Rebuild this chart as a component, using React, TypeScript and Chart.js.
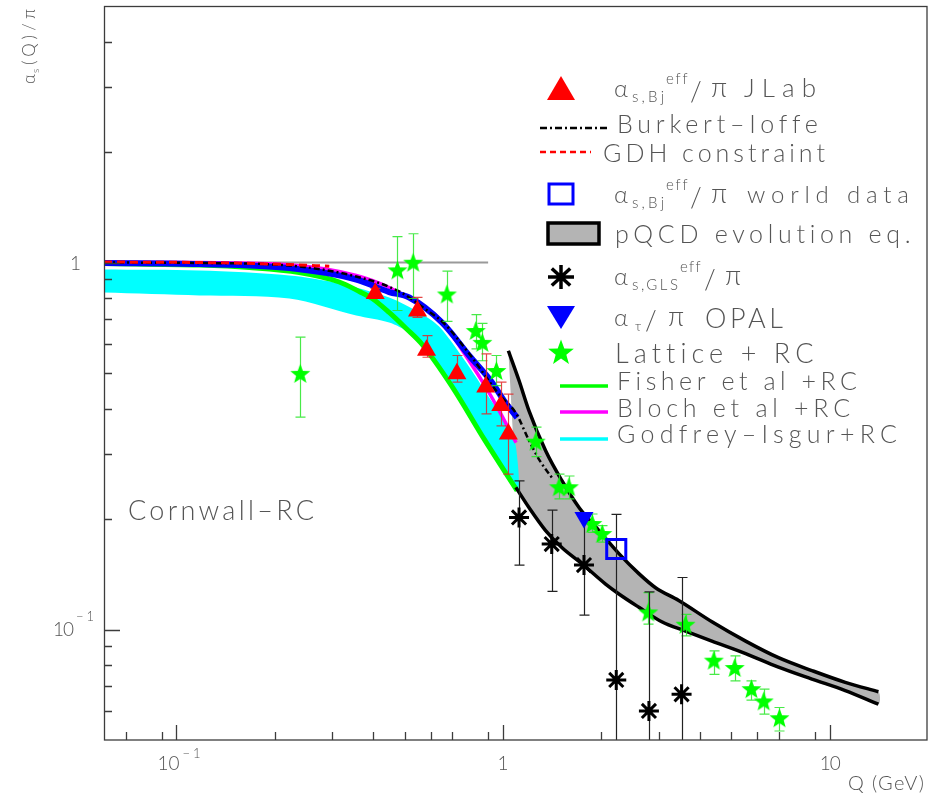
import React, { useEffect, useRef } from 'react';
import { Chart, registerables } from 'chart.js';
Chart.register(...registerables);

// ---------- Data (Q in GeV, alpha_s/pi) ----------
const fisherQ = [0.06, 0.1176, 0.1672, 0.2377, 0.3151, 0.3627, 0.3975, 0.4479, 0.5051, 0.5653, 0.6982, 0.881, 1.104];
const fisherA = [0.994, 0.984, 0.969, 0.939, 0.885, 0.834, 0.798, 0.731, 0.661, 0.598, 0.459, 0.327, 0.239];

const blochQ = [0.06, 0.1176, 0.2216, 0.3552, 0.4479, 0.542, 0.6371, 0.787, 0.887, 0.9722, 1.096];
const blochA = [1.003, 1.0, 0.986, 0.922, 0.855, 0.778, 0.704, 0.54, 0.456, 0.395, 0.323];

const cornwallQ = [0.06, 0.1176, 0.2216, 0.3552, 0.4479, 0.5161, 0.6507, 0.787, 0.9255, 1.007, 1.104];
const cornwallA = [0.997, 0.991, 0.966, 0.899, 0.831, 0.803, 0.686, 0.558, 0.471, 0.42, 0.378];

const giUpQ = [0.06, 0.1176, 0.2216, 0.3151, 0.4479, 0.5535, 0.6371, 0.787, 0.887, 1.043, 1.096];
const giUpA = [0.957, 0.951, 0.922, 0.877, 0.803, 0.731, 0.669, 0.52, 0.442, 0.353, 0.313];
const giLoQ = [0.06, 0.1176, 0.2216, 0.3552, 0.4479, 0.5161, 0.5653, 0.6982, 0.881, 1.104];
const giLoA = [0.828, 0.813, 0.798, 0.717, 0.686, 0.644, 0.598, 0.459, 0.327, 0.239];

const biQ = [0.06, 0.1176, 0.2216, 0.3552, 0.4808, 0.5814, 0.6604, 0.787, 0.9722, 1.096, 1.201, 1.297, 1.412];
const biA = [1.0, 0.997, 0.981, 0.916, 0.834, 0.744, 0.682, 0.565, 0.437, 0.388, 0.327, 0.288, 0.259];

const gdhQ = [0.06, 0.1176, 0.2216, 0.2937];
const gdhA = [1.003, 1.0, 0.9875, 0.977];

const unityQ = [0.06, 0.9];
const unityA = [1, 1];

const pqcdUpQ = [1.038, 1.119, 1.2, 1.35, 1.516, 1.708, 1.966, 2.263, 2.605, 2.93, 3.45, 4.36, 5.53, 6.97, 8.82, 11.16, 14.1];
const pqcdUpA = [0.575, 0.477, 0.395, 0.307, 0.254, 0.215, 0.186, 0.161, 0.142, 0.13, 0.12, 0.105, 0.093, 0.0838, 0.0773, 0.0718, 0.0677];
const pqcdLoQ = [1.094, 1.2, 1.35, 1.516, 1.745, 2.06, 2.263, 2.605, 3.06, 3.62, 4.36, 5.53, 6.97, 8.82, 11.16, 14.1];
const pqcdLoA = [0.244, 0.215, 0.186, 0.167, 0.151, 0.133, 0.125, 0.115, 0.105, 0.099, 0.093, 0.086, 0.079, 0.0733, 0.0682, 0.0626];

const jlabQ = [0.406, 0.547, 0.583, 0.722, 0.885, 0.984, 1.038];
const jlabA = [0.823, 0.738, 0.577, 0.498, 0.458, 0.408, 0.341];
const jlabHi = [0.85, 0.804, 0.632, 0.558, 0.564, 0.472, 0.438];
const jlabLo = [0.8, 0.709, 0.552, 0.472, 0.387, 0.359, 0.265];

const latQ = [0.2394, 0.475, 0.5305, 0.673, 0.825, 0.864, 0.954, 1.259, 1.483, 1.591, 1.876, 2.012, 2.782, 3.62, 4.42, 5.12, 5.76, 6.28, 7.02];
const latA = [0.499, 0.955, 1.002, 0.821, 0.653, 0.606, 0.508, 0.326, 0.245, 0.245, 0.1945, 0.1827, 0.1117, 0.1034, 0.0825, 0.0788, 0.069, 0.0639, 0.0575];
const latHi = [0.626, 1.177, 1.198, 0.947, 0.721, 0.683, 0.558, 0.356, 0.265, 0.262, 0.2064, 0.192, 0.126, 0.11, 0.0875, 0.0848, 0.0725, 0.0688, 0.0613];
const latLo = [0.379, 0.74, 0.798, 0.691, 0.582, 0.54, 0.462, 0.296, 0.227, 0.227, 0.184, 0.173, 0.1034, 0.0961, 0.0755, 0.0725, 0.0642, 0.0588, 0.0529];

const glsQ = [1.119, 1.409, 1.769, 2.221, 2.796, 3.52];
const glsA = [0.202, 0.171, 0.1498, 0.0729, 0.06, 0.0666];
const glsHi = [0.254, 0.2116, 0.204, 0.206, 0.1267, 0.1386];
const glsLo = [0.1498, 0.127, 0.1095, 0.03, 0.03, 0.03];

const opalQ = [1.769];
const opalA = [0.202];

const worldQ = [2.221];
const worldA = [0.1657];

const xMajorTicks = [0.1, 1, 10];
const xMinorTicks = [0.07, 0.09, 0.2, 0.3, 0.4, 0.5, 0.6, 0.7, 0.9, 2, 3, 4, 5, 6, 7, 9];
const yMajorTicks = [0.1, 1];
const yMinorTicks = [0.06, 0.07, 0.08, 0.09, 0.2, 0.3, 0.4, 0.5, 0.6, 0.7, 0.8, 0.9, 2, 3, 4];

const legendLabels = ['JLab', 'Burkert–Ioffe', 'GDH constraint', 'world data', 'pQCD evolution eq.', 'OPAL', 'Lattice + RC', 'Fisher et al +RC', 'Bloch et al +RC', 'Godfrey–Isgur+RC'];

// ---------- helpers ----------
const pts = (q: number[], a: number[]) => q.map((x, i) => ({ x, y: a[i] }));
const poly = (uq: number[], ua: number[], lq: number[], la: number[]) =>
  pts(uq, ua).concat(pts(lq, la).reverse());

const FONT = "Lato, 'DejaVu Sans', sans-serif";
const TXT = '#555555';

function fitText(ctx: CanvasRenderingContext2D, s: string, x: number, y: number, size: number, width?: number) {
  ctx.font = `300 ${size}px ${FONT}`;
  (ctx as any).letterSpacing = '0px';
  if (width && s.length > 1) {
    const w = ctx.measureText(s).width;
    const ls = (width - w) / (s.length - 1);
    (ctx as any).letterSpacing = ls.toFixed(2) + 'px';
  }
  ctx.fillText(s, x, y);
  (ctx as any).letterSpacing = '0px';
}

function starPath(g: CanvasRenderingContext2D, cx: number, cy: number, r: number, ri: number) {
  g.beginPath();
  for (let i = 0; i < 10; i++) {
    const ang = -Math.PI / 2 + (i * Math.PI) / 5;
    const rr = i % 2 === 0 ? r : ri;
    const px = cx + rr * Math.cos(ang);
    const py = cy + rr * Math.sin(ang);
    if (i === 0) g.moveTo(px, py); else g.lineTo(px, py);
  }
  g.closePath();
}

function makeStar(r: number, color: string) {
  const c = document.createElement('canvas');
  const s = Math.ceil(r * 2 + 2);
  c.width = s; c.height = s;
  const g = c.getContext('2d')!;
  starPath(g, s / 2, s / 2 + r * 0.1, r, r * 0.42);
  g.fillStyle = color;
  g.fill();
  return c;
}

const errPlugin = {
  id: 'errbars',
  beforeDatasetDraw(chart: any, args: any) {
    const ds: any = chart.data.datasets[args.index];
    if (!ds.errLo) return;
    const meta = chart.getDatasetMeta(args.index);
    const ys = chart.scales.y;
    const ctx: CanvasRenderingContext2D = chart.ctx;
    const a = chart.chartArea;
    ctx.save();
    ctx.beginPath();
    ctx.rect(a.left, a.top, a.right - a.left, a.bottom - a.top);
    ctx.clip();
    ctx.strokeStyle = ds.errColor;
    ctx.lineWidth = 1.2;
    meta.data.forEach((pt: any, i: number) => {
      const x = Math.round(pt.x) + 0.5;
      const yh = ys.getPixelForValue(ds.errHi[i]);
      const yl = ys.getPixelForValue(ds.errLo[i]);
      ctx.beginPath();
      ctx.moveTo(x, yh); ctx.lineTo(x, yl);
      ctx.moveTo(x - 5, yh); ctx.lineTo(x + 5, yh);
      ctx.moveTo(x - 5, yl); ctx.lineTo(x + 5, yl);
      ctx.stroke();
    });
    ctx.restore();
  },
};

const decorPlugin = {
  id: 'decor',
  afterDraw(chart: any) {
    const ctx: CanvasRenderingContext2D = chart.ctx;
    const a = chart.chartArea;
    const xs = chart.scales.x;
    const ys = chart.scales.y;
    ctx.save();
    // frame
    ctx.strokeStyle = '#3c3c3c';
    ctx.lineWidth = 1.3;
    ctx.strokeRect(a.left + 0.5, a.top + 0.5, a.right - a.left - 1.5, a.bottom - a.top - 0.5);
    // ticks
    ctx.beginPath();
    xMajorTicks.forEach((v) => { const x = Math.round(xs.getPixelForValue(v)) + 0.5; ctx.moveTo(x, a.bottom); ctx.lineTo(x, a.bottom - 15); });
    xMinorTicks.forEach((v) => { const x = Math.round(xs.getPixelForValue(v)) + 0.5; ctx.moveTo(x, a.bottom); ctx.lineTo(x, a.bottom - 8); });
    yMajorTicks.forEach((v) => { const y = Math.round(ys.getPixelForValue(v)) + 0.5; ctx.moveTo(a.left, y); ctx.lineTo(a.left + 16, y); });
    yMinorTicks.forEach((v) => { const y = Math.round(ys.getPixelForValue(v)) + 0.5; ctx.moveTo(a.left, y); ctx.lineTo(a.left + 8, y); });
    ctx.stroke();

    // tick labels
    ctx.fillStyle = TXT;
    ctx.textBaseline = 'alphabetic';
    const x01 = xs.getPixelForValue(0.1);
    fitText(ctx, '10', x01 - 19, 770, 19, 22);
    fitText(ctx, '−1', x01 + 6, 758, 13, 18);
    ctx.textAlign = 'center';
    fitText(ctx, '1', xs.getPixelForValue(1), 770, 19);
    ctx.textAlign = 'left';
    fitText(ctx, '10', xs.getPixelForValue(10) - 10, 770, 19, 21);
    ctx.textAlign = 'right';
    fitText(ctx, '1', 81, ys.getPixelForValue(1) + 7, 19);
    ctx.textAlign = 'left';
    const y01 = ys.getPixelForValue(0.1);
    fitText(ctx, '10', 53, y01 + 6, 19, 21);
    fitText(ctx, '−1', 76, y01 - 9, 13, 18);
    // axis titles
    fitText(ctx, 'Q (GeV)', 848, 790, 20, 76);
    ctx.save();
    ctx.translate(35, 84);
    ctx.rotate(-Math.PI / 2);
    fitText(ctx, 'α', 0, 0, 17);
    fitText(ctx, 's', 11, 4, 10);
    fitText(ctx, '(Q)/π', 19, 0, 17, 56);
    ctx.restore();
    // annotation
    fitText(ctx, 'Cornwall–RC', 128, 520, 27, 186);

    // ---------- legend ----------
    // row 1: JLab triangle
    ctx.fillStyle = '#ff0000';
    ctx.beginPath(); ctx.moveTo(561, 76); ctx.lineTo(575, 100); ctx.lineTo(547, 100); ctx.closePath(); ctx.fill();
    ctx.fillStyle = TXT;
    fitText(ctx, 'α', 614, 97, 24);
    fitText(ctx, 's,Bj', 632, 102, 15, 32);
    fitText(ctx, 'eff', 666, 84, 15, 21);
    fitText(ctx, '/', 690, 101, 27);
    fitText(ctx, 'π', 711, 97, 27);
    fitText(ctx, legendLabels[0], 744, 97, 26, 72);
    // row 2: Burkert-Ioffe
    ctx.strokeStyle = '#000';
    ctx.lineWidth = 2.5;
    ctx.setLineDash([7, 3, 2, 3]);
    ctx.beginPath(); ctx.moveTo(540, 128); ctx.lineTo(608, 128); ctx.stroke();
    ctx.strokeStyle = '#ff0000';
    ctx.lineWidth = 2.5;
    ctx.setLineDash([6, 4]);
    ctx.beginPath(); ctx.moveTo(540, 152); ctx.lineTo(591, 152); ctx.stroke();
    ctx.setLineDash([]);
    fitText(ctx, legendLabels[1], 617, 133, 25, 200);
    fitText(ctx, legendLabels[2], 603, 162, 25, 222);
    // row 4: world data square
    ctx.strokeStyle = '#0000ff';
    ctx.lineWidth = 3;
    ctx.strokeRect(549, 184, 24, 20);
    fitText(ctx, 'α', 614, 203, 24);
    fitText(ctx, 's,Bj', 632, 208, 15, 32);
    fitText(ctx, 'eff', 666, 190, 15, 21);
    fitText(ctx, '/', 690, 207, 27);
    fitText(ctx, 'π', 711, 203, 27);
    fitText(ctx, legendLabels[3], 747, 203, 24, 162);
    // row 5: pQCD box
    ctx.fillStyle = '#b4b4b4';
    ctx.fillRect(548, 223, 51, 21);
    ctx.strokeStyle = '#000';
    ctx.lineWidth = 3.5;
    ctx.strokeRect(548, 223, 51, 21);
    ctx.fillStyle = TXT;
    fitText(ctx, legendLabels[4], 615, 243, 25, 296);
    // row 6: GLS asterisk
    ctx.strokeStyle = '#000';
    ctx.lineWidth = 3.5;
    ctx.beginPath();
    for (let k = 0; k < 4; k++) {
      const ang = (k * Math.PI) / 4;
      ctx.moveTo(561 - 13 * Math.cos(ang), 277 - 12 * Math.sin(ang));
      ctx.lineTo(561 + 13 * Math.cos(ang), 277 + 12 * Math.sin(ang));
    }
    ctx.stroke();
    fitText(ctx, 'α', 614, 285, 24);
    fitText(ctx, 's,GLS', 632, 290, 15, 46);
    fitText(ctx, 'eff', 680, 272, 15, 20);
    fitText(ctx, '/', 704, 289, 27);
    fitText(ctx, 'π', 725, 285, 27);
    // row 7: OPAL down triangle
    ctx.fillStyle = '#0000ff';
    ctx.beginPath(); ctx.moveTo(547, 306); ctx.lineTo(575, 306); ctx.lineTo(561, 329); ctx.closePath(); ctx.fill();
    ctx.fillStyle = TXT;
    fitText(ctx, 'α', 614, 326, 24);
    fitText(ctx, 'τ', 635, 331, 14);
    fitText(ctx, '/', 645, 330, 27);
    fitText(ctx, 'π', 668, 326, 27);
    fitText(ctx, legendLabels[5], 705, 328, 27, 78);
    // row 8: lattice star
    ctx.fillStyle = '#00ff00';
    starPath(ctx, 561, 353, 13.5, 5.6);
    ctx.fill();
    ctx.fillStyle = TXT;
    fitText(ctx, legendLabels[6], 615, 363, 27, 198);
    // rows 9-11: lines
    const lineRows: [string, number][] = [['#00ff00', 386], ['#ff00ff', 412], ['#00ffff', 439]];
    lineRows.forEach(([c, y]) => {
      ctx.strokeStyle = c;
      ctx.lineWidth = 3.5;
      ctx.beginPath(); ctx.moveTo(560, y); ctx.lineTo(608, y); ctx.stroke();
    });
    ctx.fillStyle = TXT;
    fitText(ctx, legendLabels[7], 617, 390, 25, 240);
    fitText(ctx, legendLabels[8], 617, 417, 25, 233);
    fitText(ctx, legendLabels[9], 617, 443, 25, 280);
    ctx.restore();
  },
};

export default function App() {
  const ref = useRef<HTMLCanvasElement | null>(null);
  useEffect(() => {
    if (!ref.current) return;
    const starImg = makeStar(10.5, '#00ff00');
    const curve = (label: string, q: number[], a: number[], color: string, width: number, order: number, dash: number[] = []) => ({
      label, data: pts(q, a), borderColor: color, borderWidth: width, borderDash: dash,
      pointRadius: 0, fill: false, cubicInterpolationMode: 'monotone', order,
    });
    const chart = new Chart(ref.current, {
      type: 'line',
      data: {
        datasets: [
          { label: 'pQCD band', data: poly(pqcdUpQ, pqcdUpA, pqcdLoQ, pqcdLoA), borderWidth: 0, borderColor: 'rgba(0,0,0,0)', backgroundColor: '#b4b4b4', fill: 'shape', pointRadius: 0, tension: 0.25, order: 100 },
          curve('unity', unityQ, unityA, '#9a9a9a', 2, 99),
          { label: 'Godfrey-Isgur band', data: poly(giUpQ, giUpA, giLoQ, giLoA), borderWidth: 0, borderColor: 'rgba(0,0,0,0)', backgroundColor: '#00ffff', fill: 'shape', pointRadius: 0, tension: 0.3, order: 95 },
          curve('Fisher', fisherQ, fisherA, '#00ff00', 5, 90),
          curve('Bloch', blochQ, blochA, '#ff00ff', 3.5, 88),
          curve('Cornwall', cornwallQ, cornwallA, '#0000ff', 6, 86),
          curve('Burkert-Ioffe', biQ, biA, '#000000', 2.5, 84, [6, 3, 2, 3]),
          curve('GDH', gdhQ, gdhA, '#ff0000', 3, 82, [8, 5]),
          curve('pQCD up', pqcdUpQ, pqcdUpA, '#000000', 3.5, 80),
          curve('pQCD lo', pqcdLoQ, pqcdLoA, '#000000', 3.5, 80),
          { label: 'Lattice', data: pts(latQ, latA), showLine: false, pointStyle: starImg, pointRadius: 10, backgroundColor: '#00ff00', borderWidth: 0, order: 12, errLo: latLo, errHi: latHi, errColor: 'rgba(40,230,40,0.85)' } as any,
          { label: 'GLS', data: pts(glsQ, glsA), showLine: false, pointStyle: 'star', pointRadius: 10, borderColor: '#000', backgroundColor: '#000', pointBorderWidth: 3, borderWidth: 3, order: 11, errLo: glsLo, errHi: glsHi, errColor: '#222' } as any,
          { label: 'JLab', data: pts(jlabQ, jlabA), showLine: false, pointStyle: 'triangle', pointRadius: 11, backgroundColor: '#ff0000', borderColor: '#ff0000', borderWidth: 0, pointBorderWidth: 0, order: 10, errLo: jlabLo, errHi: jlabHi, errColor: 'rgba(225,40,40,0.85)' } as any,
          { label: 'OPAL', data: pts(opalQ, opalA), showLine: false, pointStyle: 'triangle', rotation: 180, pointRotation: 180, pointRadius: 11, backgroundColor: '#0000ff', borderColor: '#0000ff', pointBorderWidth: 0, order: 9 } as any,
          { label: 'world', data: pts(worldQ, worldA), showLine: false, pointStyle: 'rect', pointRadius: 13.5, backgroundColor: 'rgba(0,0,0,0)', borderColor: '#0000ff', pointBorderWidth: 3, borderWidth: 3, order: 8 } as any,
        ] as any,
      },
      options: {
        animation: false,
        responsive: false,
        devicePixelRatio: 1,
        events: [],
        layout: { autoPadding: false, padding: { left: 104, right: 0, top: 6, bottom: 53 } },
        scales: {
          x: { type: 'logarithmic', min: 0.06, max: 20, display: false },
          y: { type: 'logarithmic', min: 0.05, max: 5, display: false },
        },
        plugins: { legend: { display: false }, tooltip: { enabled: false } },
      } as any,
      plugins: [errPlugin, decorPlugin] as any,
    });
    return () => chart.destroy();
  }, []);
  return (
    <div style={{ position: 'absolute', left: 0, top: 0, width: 928, height: 793, background: '#fff' }}>
      <canvas ref={ref} width={928} height={793} style={{ display: 'block', width: 928, height: 793 }} />
    </div>
  );
}
